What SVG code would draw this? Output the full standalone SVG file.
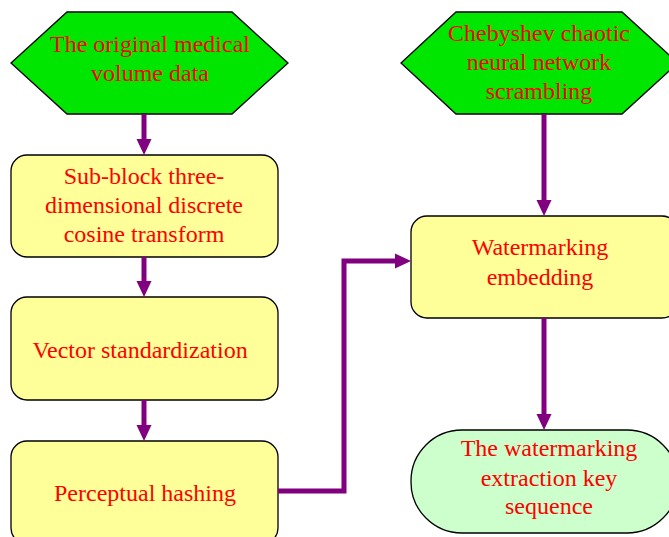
<svg xmlns="http://www.w3.org/2000/svg" width="669" height="537" viewBox="0 0 669 537">
<defs>
<style>
.hex{fill:#00e600;stroke:#000;stroke-width:1.3}
.box{fill:#ffff99;stroke:#000;stroke-width:1.3}
.term{fill:#ccffcc;stroke:#000;stroke-width:1.3}
text{font-family:"Liberation Serif","Times New Roman",serif;font-size:24px;fill:#ff0000;text-anchor:middle}
.c{fill:none;stroke:#800080;stroke-width:5}
.h{fill:#800080}
</style>
</defs>
<rect width="669" height="537" fill="#fff"/>
<g id="n1">
<polygon class="hex" points="67,12 232,12 288,63 232,114 67,114 11,63"/>
<text x="150" y="52">The original medical</text>
<text x="150" y="81">volume data</text>
</g>
<g id="n2">
<polygon class="hex" points="456,12 622,12 678,63 622,114 456,114 401,63"/>
<text x="539" y="41">Chebyshev chaotic</text>
<text x="539" y="70">neural network</text>
<text x="539" y="99">scrambling</text>
</g>
<g id="n3">
<rect class="box" x="11" y="155" width="267" height="102" rx="16"/>
<text x="144" y="184">Sub-block three-</text>
<text x="144" y="213">dimensional discrete</text>
<text x="144" y="242">cosine transform</text>
</g>
<g id="n4">
<rect class="box" x="11" y="297" width="267" height="103" rx="16"/>
<text x="140" y="358">Vector standardization</text>
</g>
<g id="n5">
<rect class="box" x="11" y="441" width="267" height="103" rx="16"/>
<text x="145" y="501">Perceptual hashing</text>
</g>
<g id="n6">
<rect class="box" x="411" y="216" width="267" height="102" rx="16"/>
<text x="540" y="255">Watermarking</text>
<text x="540" y="285">embedding</text>
</g>
<g id="n7">
<rect class="term" x="411" y="430" width="267" height="103" rx="51"/>
<text x="549" y="456">The watermarking</text>
<text x="549" y="486">extraction key</text>
<text x="549" y="514">sequence</text>
</g>
<g id="connectors">
<line class="c" x1="144" y1="114" x2="144" y2="140"/>
<polygon class="h" points="136.5,139 151.5,139 144,155"/>
<line class="c" x1="144" y1="257" x2="144" y2="282"/>
<polygon class="h" points="136.5,281 151.5,281 144,297"/>
<line class="c" x1="144" y1="400" x2="144" y2="426"/>
<polygon class="h" points="136.5,425 151.5,425 144,441"/>
<line class="c" x1="544" y1="114" x2="544" y2="201"/>
<polygon class="h" points="536.5,200 551.5,200 544,216"/>
<line class="c" x1="544" y1="318" x2="544" y2="415"/>
<polygon class="h" points="536.5,414 551.5,414 544,430"/>
<polyline class="c" points="278,491 344,491 344,261 396,261"/>
<polygon class="h" points="395,253.5 395,268.5 411,261"/>
</g>
</svg>
